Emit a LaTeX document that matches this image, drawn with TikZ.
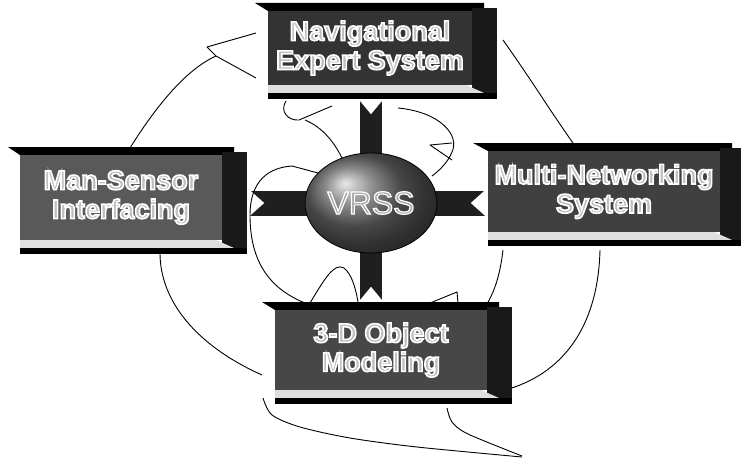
\documentclass[tikz,border=0pt]{standalone}
\usepackage{fontspec}
\setmainfont{Liberation Sans}
\usetikzlibrary{shapes.geometric,calc}
\pgfdeclarelayer{back}
\pgfsetlayers{back,main}
% #1 name, #2 slant x, #3 face left, #4 face right, #5 text shift, #6 top y, #7 face bottom y, #8 text, #9 face colour
\newcommand\bevbox[9]{%
  \fill[barfill] (#2,#6) -- ({#4+12},#6) -- ({#4+12},{#6+8}) -- (#3,{#6+8}) -- cycle;
  \fill[sidefill] (#4,{#6+5}) rectangle ({#4+25},{#7+14});
  \node[face,fill=#9,minimum width={(#4)-(#3)},minimum height={(#7)-(#6)-8}] (#1) at ({((#3)+(#4))/2},{((#6)+8+(#7))/2}) {};
  \node[facetext] (#1t) at ($(#1.center)+(0,#5)$) {#8};
  \fill[stripfill] (#3,#7) -- ({#4-6},#7) -- ({#4+12},{#7+8}) -- (#3,{#7+8}) -- cycle;
  \fill[barfill] (#3,{#7+8}) rectangle ({#4+25},{#7+14});
}
\newcommand\hl[1]{\special{pdf:literal direct 2 Tr 1 1 1 RG 1.6 w}#1\special{pdf:literal direct 0 Tr 0 0 0 RG 0.4 w}}
\newcommand\hlthin[1]{\special{pdf:literal direct 2 Tr 1 1 1 RG 1.2 w}#1\special{pdf:literal direct 0 Tr 0 0 0 RG 0.4 w}}
\begin{document}
\begin{tikzpicture}[x=1pt,y=-1pt,
  barfill/.style={fill=black},
  sidefill/.style={fill=black!90},
  stripfill/.style={fill=black!13},
  face/.style={draw=none,inner sep=0pt},
  facetext/.style={inner sep=0pt,text=black!25,align=center,font=\bfseries\fontsize{27}{29}\selectfont},
  vribbon/.style={line width=22pt,draw=black!88},
  hribbon/.style={line width=25pt,draw=black!88},
  notch/.style={fill=white},
  pen/.style={draw=black,line width=0.9pt,line join=round}]
\useasboundingbox (0,0) rectangle (741,460);

% boxes
\bevbox{nav}{255}{268}{472}{0}{3}{85}{\hl{Navigational}\\\hl{Expert System}}{black!80}
\bevbox{msi}{8}{20}{222}{0}{147}{240}{\hl{Man-Sensor}\\\hl{Interfacing}}{black!65}
\bevbox{mns}{473}{488}{720}{0}{143}{232}{\hl{Multi-Networking}\\\hl{System}}{black!75}
\bevbox{dom}{262}{275}{487}{0}{302}{390}{\hl{3-D Object}\\\hl{Modeling}}{black!72}

% centre
\node[ellipse,minimum width=132pt,minimum height=100pt,inner sep=0pt,
      ball color=black!60,draw=black,line width=0.8pt] (vrss) at (371,203) {};
\node[text=black!35,font=\fontsize{32}{32}\selectfont,inner sep=0pt] (vrsst) at (vrss.center) {\hlthin{VRSS}};

\begin{pgfonlayer}{back}
  % ribbons
  \coordinate (navB) at ($(nav.south -| vrss.center)+(0,15)$);
  \coordinate (domT) at ($(dom.north -| vrss.center)+(0,-9)$);
  \coordinate (msiR) at ($(msi.east |- vrss.center)+(28,0)$);
  \coordinate (mnsL) at ($(mns.west |- vrss.center)+(-3,0)$);
  \draw[vribbon] (navB) -- (vrss.center);
  \draw[vribbon] (domT) -- (vrss.center);
  \draw[hribbon] (msiR) -- (vrss.center);
  \draw[hribbon] (mnsL) -- (vrss.center);
  \fill[notch] ($(navB)+(-12,-0.5)$) -- ($(navB)+(0,14)$) -- ($(navB)+(12,-0.5)$) -- cycle;
  \fill[notch] ($(domT)+(-12,0.5)$) -- ($(domT)+(0,-14)$) -- ($(domT)+(12,0.5)$) -- cycle;
  \fill[notch] ($(msiR)+(-0.5,-13)$) -- ($(msiR)+(14,0)$) -- ($(msiR)+(-0.5,13)$) -- cycle;
  \fill[notch] ($(mnsL)+(0.5,-13)$) -- ($(mnsL)+(-14,0)$) -- ($(mnsL)+(0.5,13)$) -- cycle;

  % hand-drawn strokes
  \draw[pen] (130,148) .. controls (155,108) and (185,70) .. (216,56);
  \draw[pen] (256,33) -- (207,47) -- (216,56) -- (256,78);
  \draw[pen] (503,40) .. controls (530,78) and (553,115) .. (573,143);
  \draw[pen] (286,101) .. controls (279,112) and (289,121) .. (299,120) -- (332,106);
  \draw[pen] (305,120) .. controls (324,128) and (335,144) .. (342,158);
  \draw[pen] (398,108) .. controls (440,112) and (460,135) .. (452,152)
                      .. controls (448,162) and (440,170) .. (432,176);
  \draw[pen] (452,143) -- (430,145) -- (452,160);
  \draw[pen] (318,173) -- (292,166) .. controls (262,168) and (250,188) .. (250,215)
                      .. controls (250,260) and (268,288) .. (305,303);
  \draw[pen] (160,253) .. controls (160,300) and (195,345) .. (262,375);
  \draw[pen] (310,303) .. controls (324,280) and (334,262) .. (344,268)
                      .. controls (352,274) and (356,290) .. (358,302);
  \draw[pen] plot[smooth] coordinates {(263,398) (272,415) (300,427) (350,438) (417,447) (522,457)};
  \draw[pen] plot[smooth] coordinates {(447,408) (452,422) (468,434) (522,456)};
  \draw[pen] (600,250) .. controls (598,330) and (560,375) .. (505,390);
  \draw[pen] (503,250) .. controls (500,275) and (495,290) .. (487,304);
  \draw[pen] (430,303) -- (457,292) -- (458,303);
\end{pgfonlayer}
\end{tikzpicture}
\end{document}
